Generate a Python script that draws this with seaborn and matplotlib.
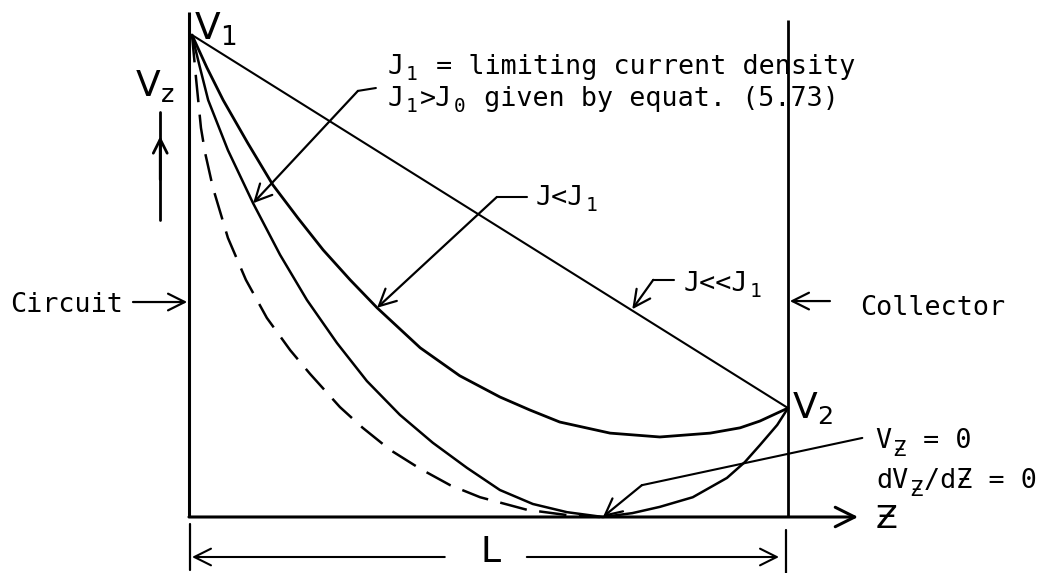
import matplotlib
matplotlib.use("Agg")
import matplotlib.pyplot as plt
from matplotlib.transforms import offset_copy
import seaborn as sns

# Normalised coordinates: z / L along the gap, V / V1 for the potential
V1, V2 = 1.0, 0.226

# J << J1 : nearly linear potential drop
z_low = [0.005, 1.0]
v_low = [V1, V2]

# J < J1 : potential dips below V2 then rises to the collector
z_mid = [0.005, 0.030, 0.057, 0.098, 0.140, 0.182, 0.224, 0.269, 0.314,
         0.386, 0.452, 0.519, 0.569, 0.619, 0.703, 0.786, 0.870, 0.920,
         0.953, 1.0]
v_mid = [1.0, 0.932, 0.865, 0.776, 0.689, 0.620, 0.554, 0.492, 0.434,
         0.351, 0.293, 0.249, 0.222, 0.197, 0.174, 0.166, 0.174, 0.185,
         0.199, V2]

# J = J1 : limiting case, V = 0 and dV/dz = 0 at one point
z_lim = [0.005, 0.018, 0.032, 0.065, 0.107, 0.152, 0.197, 0.247, 0.297,
         0.352, 0.407, 0.464, 0.519, 0.574, 0.631, 0.691, 0.740, 0.786,
         0.841, 0.898, 0.928, 0.953, 0.982, 1.0]
v_lim = [1.0, 0.934, 0.865, 0.761, 0.651, 0.544, 0.450, 0.361, 0.282,
         0.212, 0.154, 0.102, 0.056, 0.027, 0.010, 0.0, 0.008, 0.021,
         0.041, 0.081, 0.114, 0.149, 0.191, V2]

# dashed reference curve (J0)
z_ref = [0.005, 0.012, 0.020, 0.027, 0.040, 0.065, 0.095, 0.130, 0.169,
         0.202, 0.252, 0.290, 0.336, 0.386, 0.436, 0.486, 0.564, 0.631, 0.686]
v_ref = [1.0, 0.907, 0.807, 0.755, 0.683, 0.579, 0.492, 0.413, 0.346,
         0.297, 0.228, 0.185, 0.139, 0.100, 0.066, 0.041, 0.015, 0.004, 0.0]

sns.set_theme(style="white")
plt.rcParams["font.family"] = ["DejaVu Sans"]
MONO = ["DejaVu Sans Mono", "DejaVu Sans"]
INK = "black"

fig = plt.figure(figsize=(10.42, 5.73), dpi=100)
fig.patch.set_facecolor("white")
ax = fig.add_axes([0, 0, 1, 1])
ax.set_xlim(-0.3155, 1.424)
ax.set_ylim(-0.1162, 1.0726)
ax.axis("off")

# potential profiles
sns.lineplot(x=z_low, y=v_low, ax=ax, color=INK, lw=1.5, sort=False, estimator=None)
sns.lineplot(x=z_mid, y=v_mid, ax=ax, color=INK, lw=2.0, sort=False, estimator=None)
sns.lineplot(x=z_lim, y=v_lim, ax=ax, color=INK, lw=1.8, sort=False, estimator=None)
sns.lineplot(x=z_ref, y=v_ref, ax=ax, color=INK, lw=1.8, sort=False, estimator=None,
             linestyle=(0, (11, 5)))

# electrodes and z axis
ax.plot([0, 0], [0, 1.048], color=INK, lw=2.2, solid_capstyle="butt")
ax.plot([1, 1], [0, 1.031], color=INK, lw=2.0, solid_capstyle="butt")


def arrow(tail, tip, lw=1.6, hl=0.6, hw=0.3):
    ax.annotate("", xy=tip, xytext=tail,
                arrowprops=dict(arrowstyle=f"->,head_length={hl},head_width={hw}",
                                lw=lw, color=INK, shrinkA=0, shrinkB=0,
                                mutation_scale=20))


arrow((0, 0), (1.117, 0), lw=2.2, hl=0.7, hw=0.35)
ax.text(1.164, -0.006, "Ƶ", fontsize=23, ha="center", va="center", color=INK)

# length L of the gap
ax.plot([0.002, 0.002], [-0.0145, -0.110], color=INK, lw=1.6)
ax.plot([0.997, 0.997], [-0.027, -0.116], color=INK, lw=1.6)
arrow((0.427, -0.083), (0.005, -0.083), lw=1.5)
arrow((0.564, -0.083), (0.985, -0.083), lw=1.5)
ax.text(0.503, -0.073, "L", fontsize=26, ha="center", va="center", color=INK)

# potential axis label
ax.text(-0.057, 0.894, r"$\mathsf{V_z}$", fontsize=26, ha="center", va="center", color=INK)
ax.plot([-0.048, -0.048], [0.616, 0.840], color=INK, lw=2.0)
arrow((-0.048, 0.70), (-0.048, 0.790), lw=2.0, hl=0.5, hw=0.25)

# electrode potentials
ax.text(0.043, 1.0124, r"$\mathsf{V_1}$", fontsize=27, ha="center", va="center", color=INK)
ax.text(1.040, 0.226, r"$\mathsf{V_2}$", fontsize=26, ha="center", va="center", color=INK)

# typewritten notes: each piece sits in its own column, subscripts smaller and lower
SIZE = 19.3
CW = SIZE * 100 / 72 * 0.6021  # advance of one monospace column in pixels


def typed(x, y, pieces, sub_size=14, drop=6):
    col = 0
    for piece, sub in pieces:
        if sub:
            for ch in piece:
                tr = offset_copy(ax.transData, fig=fig, x=(col + 0.5) * CW,
                                 y=-drop, units="dots")
                ax.text(x, y, ch, family=MONO, fontsize=sub_size, ha="center",
                        va="baseline", color=INK, transform=tr)
                col += 1
        else:
            tr = offset_copy(ax.transData, fig=fig, x=col * CW, y=0, units="dots")
            ax.text(x, y, piece, family=MONO, fontsize=SIZE, ha="left",
                    va="baseline", color=INK, transform=tr)
            col += len(piece)


typed(0.331, 0.919, [("J", 0), ("1", 1), (" = limiting current density", 0)])
typed(0.331, 0.853, [("J", 0), ("1", 1), (">J", 0), ("0", 1), (" given by equat. (5.73)", 0)])
typed(0.578, 0.647, [("J<J", 0), ("1", 1)])
typed(0.825, 0.469, [("J<<J", 0), ("1", 1)])
typed(-0.299, 0.425, [("Circuit", 0)])
typed(1.120, 0.419, [("Collector", 0)])
typed(1.145, 0.143, [("V", 0), ("Ƶ", 1), (" = 0", 0)], sub_size=16, drop=8)
typed(1.147, 0.060, [("dV", 0), ("Ƶ", 1), ("/dƵ = 0", 0)], sub_size=16, drop=8)

# leader lines
ax.plot([0.282, 0.312], [0.884, 0.890], color=INK, lw=1.5)
arrow((0.282, 0.884), (0.107, 0.651))
ax.plot([0.514, 0.564], [0.664, 0.664], color=INK, lw=1.5)
arrow((0.514, 0.664), (0.314, 0.434))
ax.plot([0.775, 0.810], [0.492, 0.492], color=INK, lw=1.5)
arrow((0.775, 0.492), (0.740, 0.431))
ax.plot([1.124, 0.756], [0.164, 0.066], color=INK, lw=1.5)
arrow((0.756, 0.066), (0.691, 0.0))

# electrode markers
arrow((-0.0935, 0.446), (-0.003, 0.446))
arrow((1.070, 0.448), (1.003, 0.448))

fig.savefig("out.png", dpi=100, facecolor="white")
